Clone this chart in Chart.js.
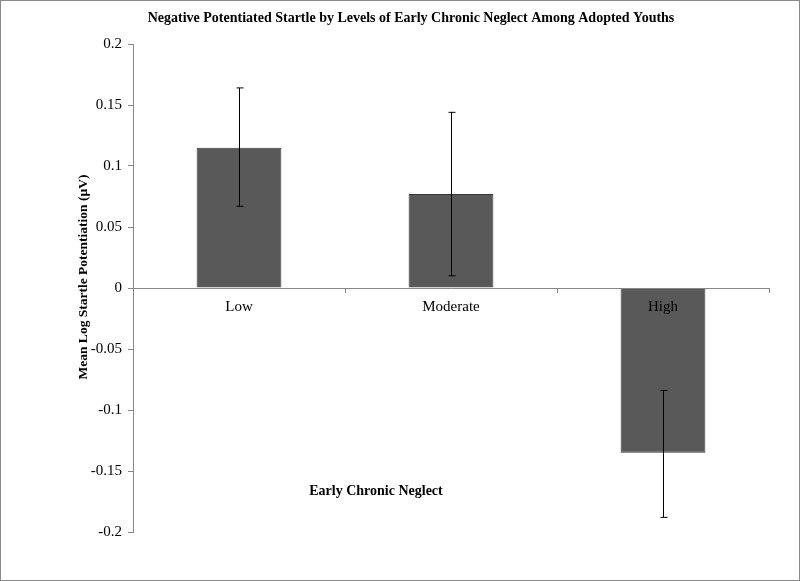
<!DOCTYPE html>
<html>
<head>
<meta charset="utf-8">
<script src="https://cdn.jsdelivr.net/npm/chart.js@4.4.1/dist/chart.umd.min.js"></script>
<style>
  body { margin: 0; background: #fff; }
  #wrap { position: relative; width: 800px; height: 581px; }
  #frame { position: absolute; left: 0; top: 0; width: 800px; height: 581px; box-sizing: border-box; border: 1px solid #8a8a8a; pointer-events: none; }
</style>
</head>
<body>
<div id="wrap">
  <canvas id="startleChart" width="800" height="581"></canvas>
  <div id="frame"></div>
</div>
<script>
const categories = ['Low', 'Moderate', 'High'];
const meanValues = [0.115, 0.077, -0.135];
const errLower = [0.067, 0.010, -0.188];
const errUpper = [0.164, 0.144, -0.084];
const yTicks = [-0.2, -0.15, -0.1, -0.05, 0, 0.05, 0.1, 0.15, 0.2];

const chartTitle = 'Negative Potentiated Startle by Levels of Early Chronic Neglect Among Adopted Youths';
const yTitle = 'Mean Log Startle Potentiation (\u00b5V)';
const xTitle = 'Early Chronic Neglect';

const serif = '"Liberation Serif", "Times New Roman", serif';

// error bars + titles drawn on the canvas
const extras = {
    id: 'extras',
    afterDatasetsDraw(chart) {
        const ctx = chart.ctx;
        const x = chart.scales.x;
        const y = chart.scales.y;
        ctx.save();
        ctx.strokeStyle = '#000';
        ctx.lineWidth = 1;
        categories.forEach((c, i) => {
            const px = Math.round(x.getPixelForValue(i)) + 0.5;
            const top = y.getPixelForValue(errUpper[i]);
            const bot = y.getPixelForValue(errLower[i]);
            ctx.beginPath();
            ctx.moveTo(px, top);
            ctx.lineTo(px, bot);
            ctx.moveTo(px - 3, top);
            ctx.lineTo(px + 4, top);
            ctx.moveTo(px - 3, bot);
            ctx.lineTo(px + 4, bot);
            ctx.stroke();
        });
        ctx.restore();
    },
    afterDraw(chart) {
        const ctx = chart.ctx;
        ctx.save();
        ctx.fillStyle = '#000';
        ctx.textAlign = 'center';
        ctx.textBaseline = 'middle';
        ctx.font = 'bold 14px ' + serif;
        ctx.fillText(chartTitle, 411, 18);
        ctx.fillText(xTitle, 376, 491);
        ctx.font = 'bold 13.5px ' + serif;
        ctx.translate(84, 277);
        ctx.rotate(-Math.PI / 2);
        ctx.fillText(yTitle, 0, 0);
        ctx.restore();
    }
};

new Chart(document.getElementById('startleChart'), {
    type: 'bar',
    data: {
        labels: categories,
        datasets: [{
            data: meanValues,
            backgroundColor: '#595959',
            borderColor: '#363636',
            borderWidth: 1,
            barPercentage: 0.4,
            categoryPercentage: 1
        }]
    },
    options: {
        responsive: false,
        animation: false,
        layout: { padding: { left: 0, top: 44, right: 31, bottom: 49 } },
        plugins: {
            legend: { display: false },
            tooltip: { enabled: false }
        },
        scales: {
            x: {
                position: { y: 0 },
                border: { color: '#868686', width: 1, z: 1 },
                grid: { display: true, drawOnChartArea: false, offset: true, tickLength: 4, color: '#868686' },
                ticks: { z: 1, color: '#000', font: { family: serif, size: 15 }, padding: 6 }
            },
            y: {
                min: -0.2,
                max: 0.2,
                afterFit(scale) { scale.width = 133; },
                afterBuildTicks(scale) { scale.ticks = yTicks.map(v => ({ value: v })); },
                border: { color: '#868686', width: 1 },
                grid: { drawOnChartArea: false, tickLength: 5, color: '#868686' },
                ticks: {
                    color: '#000',
                    padding: 6,
                    font: { family: serif, size: 15 },
                    callback: v => String(Math.round(v * 100) / 100)
                }
            }
        }
    },
    plugins: [extras]
});
</script>
</body>
</html>
